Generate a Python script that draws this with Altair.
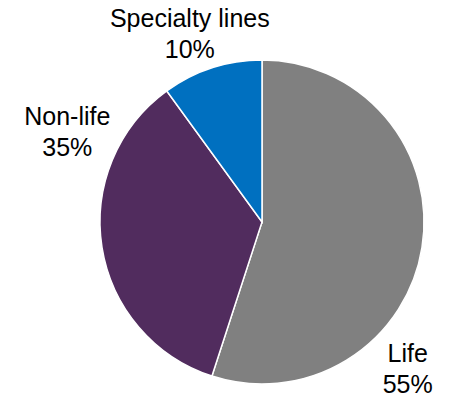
import altair as alt
import pandas as pd

# Portfolio split by business line
segments = ["Life", "Non-life", "Specialty lines"]
shares = [55, 35, 10]
colors = ["#808080", "#512C5E", "#0070C0"]

df = pd.DataFrame({
    "segment": segments,
    "share": shares,
    "order": list(range(len(segments))),
})
df["label"] = df["segment"] + "\n" + df["share"].astype(str) + "%"

theta_scale = alt.Scale(domain=[0, 100])

pie = alt.Chart(df).mark_arc(outerRadius=162, stroke="white", strokeWidth=1.5).encode(
    theta=alt.Theta("share:Q", stack=True, scale=theta_scale),
    order=alt.Order("order:Q"),
    color=alt.Color("segment:N", scale=alt.Scale(domain=segments, range=colors), legend=None),
)

# Label offsets from each wedge's mid-angle point
offsets = {"Life": (-37, 103), "Non-life": (-12, -134), "Specialty lines": (-15, -27)}

labels = []
for seg in segments:
    dx, dy = offsets[seg]
    labels.append(
        alt.Chart(df)
        .transform_stack(stack="share", groupby=[], as_=["s0", "s1"],
                         sort=[alt.SortField("order", order="ascending")])
        .transform_calculate(mid="(datum.s0 + datum.s1) / 2")
        .transform_filter(alt.datum.segment == seg)
        .mark_text(
            radius=185, dx=dx, dy=dy, font="Liberation Sans", fontSize=25,
            lineHeight=31, align="center", baseline="middle", color="black",
            lineBreak="\n",
        )
        .encode(
            theta=alt.Theta("mid:Q", stack=None, scale=theta_scale),
            text="label:N",
        )
    )

chart = alt.layer(pie, *labels).properties(
    width=324, height=324,
    padding={"left": 100, "top": 60, "right": 27, "bottom": 14},
    autosize=alt.AutoSizeParams(type="none"),
).configure_view(stroke=None)

chart.save("out.html", embed_options={"renderer": "svg", "actions": False})
